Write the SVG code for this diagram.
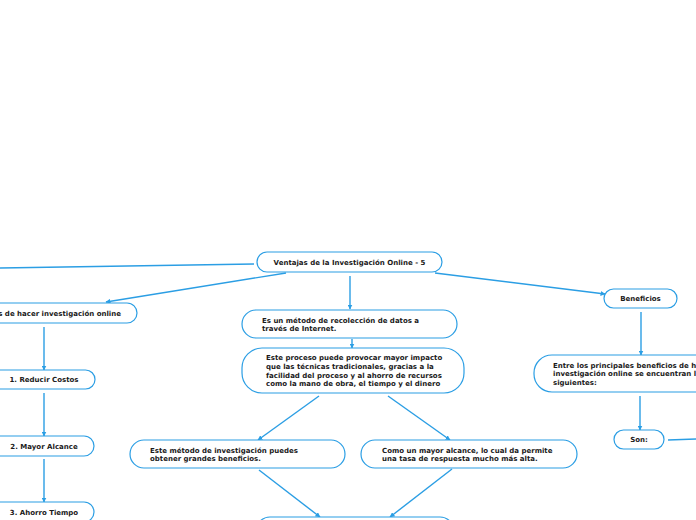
<svg xmlns="http://www.w3.org/2000/svg" width="696" height="520" viewBox="0 0 696 520">
<style>
.n{fill:#fff;stroke:#2b9ee4;stroke-width:1.2}
.t{font-family:"DejaVu Sans",Verdana,sans-serif;font-weight:bold;font-size:7px;fill:#1a1a1a}
.c{fill:none;stroke:#2b9ee4;stroke-width:1.4}
</style>
<defs>
<marker id="a" viewBox="0 0 10 10" refX="9" refY="5" markerWidth="5" markerHeight="5" orient="auto" markerUnits="userSpaceOnUse"><path d="M0,0L10,5L0,10z" fill="#2b9ee4"/></marker>
</defs>
<rect width="696" height="520" fill="#fff"/>
<g id="connectors">
<path class="c" d="M254,264L0,268"/>
<path class="c" d="M286,273L106,302" marker-end="url(#a)"/>
<path class="c" d="M350,276L350,309" marker-end="url(#a)"/>
<path class="c" d="M352,339L352,348" marker-end="url(#a)"/>
<path class="c" d="M319,396L258,440" marker-end="url(#a)"/>
<path class="c" d="M388,396L450,440" marker-end="url(#a)"/>
<path class="c" d="M259,470L320,517" marker-end="url(#a)"/>
<path class="c" d="M452,469L390,517" marker-end="url(#a)"/>
<path class="c" d="M435,273L605,294" marker-end="url(#a)"/>
<path class="c" d="M641,312L641,355" marker-end="url(#a)"/>
<path class="c" d="M640,396L640,430" marker-end="url(#a)"/>
<path class="c" d="M668,440L696,439"/>
<path class="c" d="M44,327L44,370" marker-end="url(#a)"/>
<path class="c" d="M44,393L44,436" marker-end="url(#a)"/>
<path class="c" d="M44,459L44,502" marker-end="url(#a)"/>
</g>
<g id="root"><rect class="n" x="257" y="252" width="185" height="20" rx="10"/><text class="t" x="349.5" y="264.5" text-anchor="middle">Ventajas de la Investigación Online - 5</text></g>
<g id="left"><rect class="n" x="-30" y="303" width="167" height="20" rx="10"/><text class="t" x="121" y="315.5" text-anchor="end">s de hacer investigación online</text></g>
<g id="n1"><rect class="n" x="-20" y="370" width="115" height="19" rx="9.5"/><text class="t" x="44" y="382" text-anchor="middle">1. Reducir Costos</text></g>
<g id="n2"><rect class="n" x="-20" y="436" width="114" height="20" rx="10"/><text class="t" x="44" y="448.5" text-anchor="middle">2. Mayor Alcance</text></g>
<g id="n3"><rect class="n" x="-20" y="502" width="114" height="20" rx="10"/><text class="t" x="44" y="514.5" text-anchor="middle">3. Ahorro Tiempo</text></g>
<g id="metodo"><rect class="n" x="242" y="310" width="215" height="28" rx="14"/><text class="t" x="262" y="322.5">Es un método de recolección de datos a</text><text class="t" x="262" y="331">través de Internet.</text></g>
<g id="proceso"><rect class="n" x="242" y="348" width="222" height="45" rx="20"/><text class="t" x="266" y="360">Este proceso puede provocar mayor impacto</text><text class="t" x="266" y="368.5">que las técnicas tradicionales, gracias a la</text><text class="t" x="266" y="377.5">facilidad del proceso y al ahorro de recursos</text><text class="t" x="266" y="386">como la mano de obra, el tiempo y el dinero</text></g>
<g id="beneficios1"><rect class="n" x="130" y="440" width="215" height="28" rx="14"/><text class="t" x="150" y="452.5">Este método de investigación puedes</text><text class="t" x="150" y="461">obtener grandes beneficios.</text></g>
<g id="alcance"><rect class="n" x="361" y="440" width="216" height="28" rx="14"/><text class="t" x="382" y="452.5">Como un mayor alcance, lo cual da permite</text><text class="t" x="382" y="461">una tasa de respuesta mucho más alta.</text></g>
<g id="bottom"><rect class="n" x="256" y="517" width="198" height="28" rx="14"/></g>
<g id="benef"><rect class="n" x="604" y="289" width="73" height="19" rx="9.5"/><text class="t" x="640.5" y="301" text-anchor="middle">Beneficios</text></g>
<g id="entre"><rect class="n" x="534" y="355" width="200" height="37" rx="18"/><text class="t" x="553" y="368">Entre los principales beneficios de ha</text><text class="t" x="553" y="376">investigación online se encuentran lo</text><text class="t" x="553" y="385">siguientes:</text></g>
<g id="son"><rect class="n" x="614" y="430" width="50" height="19" rx="9.5"/><text class="t" x="639" y="442" text-anchor="middle">Son:</text></g>
</svg>
